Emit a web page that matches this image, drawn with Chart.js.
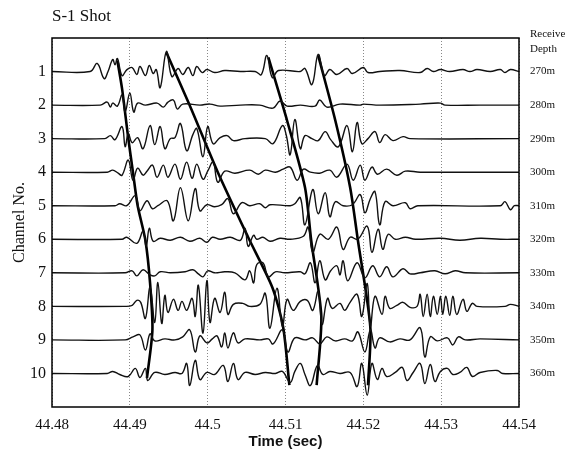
<!DOCTYPE html>
<html>
<head>
<meta charset="utf-8">
<script src="https://cdn.jsdelivr.net/npm/chart.js@4"></script>
<style>
html,body{margin:0;padding:0;background:#fff;}
#wrap{width:578px;height:453px;}
</style>
</head>
<body>
<div id="wrap"><canvas id="c" width="578" height="453"></canvas></div>
<script>
// ---- data ----
const titleText = 'S-1 Shot';
const xTickValues = [44.48, 44.49, 44.50, 44.51, 44.52, 44.53, 44.54];
const channels = [1, 2, 3, 4, 5, 6, 7, 8, 9, 10];
const depthLabels = ['270m','280m','290m','300m','310m','320m','330m','340m','350m','360m'];

// traces: [time (s), amplitude (channel spacing units, + = up)]
const trace1 = [[44.48,0],[44.4849,0],[44.4858,.24],[44.4867,-.21],[44.4872,0],[44.4878,.36],[44.4881,.2],[44.4884,.39],[44.4890,-.12],[44.4896,.05],[44.4903,.12],[44.4909,-.09],[44.4913,.15],[44.4920,-.12],[44.4925,.18],[44.4930,-.06],[44.4934,.06],[44.4939,-.48],[44.4947,.6],[44.4954,-.15],[44.4962,.09],[44.4968,-.09],[44.4975,.12],[44.4981,-.12],[44.4986,.15],[44.4993,-.03],[44.4999,.06],[44.5009,-.03],[44.5022,.03],[44.5042,0],[44.5061,0],[44.5069,-.09],[44.5076,.48],[44.5083,-.18],[44.5091,.03],[44.5119,0],[44.5125,.09],[44.5134,-.39],[44.5142,.51],[44.5150,-.12],[44.5157,.06],[44.5166,-.09],[44.5179,.09],[44.5186,-.06],[44.5200,.12],[44.5206,-.03],[44.5221,0],[44.5247,.03],[44.5273,-.03],[44.5282,.09],[44.5290,0],[44.5299,.06],[44.5311,0],[44.5328,.06],[44.5337,0],[44.5346,.06],[44.5363,0],[44.5376,.06],[44.5382,-.03],[44.5389,.06],[44.54,0]];
const trace2 = [[44.48,0],[44.4862,0],[44.4871,.09],[44.4875,-.06],[44.4878,.06],[44.4884,-.03],[44.4890,.3],[44.4894,-.21],[44.4900,.36],[44.4905,-.21],[44.4910,.06],[44.4920,0],[44.4935,.06],[44.4943,-.06],[44.4949,.09],[44.4956,.15],[44.4961,-.12],[44.4968,.03],[44.4990,0],[44.5003,.03],[44.5016,-.03],[44.5042,0],[44.5067,0],[44.5084,-.09],[44.5093,.12],[44.5102,-.03],[44.5119,0],[44.5138,-.03],[44.5144,.15],[44.5153,-.06],[44.5170,.03],[44.5196,0],[44.5200,.03],[44.5221,0],[44.5273,.03],[44.5299,.06],[44.5305,0],[44.5350,0],[44.54,0]];
const trace3 = [[44.48,0],[44.4868,0],[44.4875,.09],[44.4881,-.03],[44.4890,.36],[44.4894,-.24],[44.4898,.15],[44.4903,-.12],[44.4910,.03],[44.4917,-.3],[44.4926,.39],[44.4932,-.18],[44.4939,.36],[44.4945,-.3],[44.4952,0],[44.4958,.03],[44.4965,.45],[44.4973,-.36],[44.4981,.12],[44.4986,.3],[44.4994,-.54],[44.5000,.36],[44.5007,-.15],[44.5016,.03],[44.5025,.09],[44.5033,-.06],[44.5048,0],[44.5074,0],[44.5084,-.15],[44.5096,.39],[44.5101,.1],[44.5106,-.48],[44.5112,.57],[44.5119,-.3],[44.5125,.09],[44.5134,0],[44.5142,-.06],[44.5151,.21],[44.5158,-.03],[44.5168,-.24],[44.5179,.39],[44.5186,-.39],[44.5192,.48],[44.5198,-.15],[44.5206,0],[44.5215,.21],[44.5221,-.12],[44.5228,.12],[44.5238,-.06],[44.5251,.06],[44.5260,0],[44.54,0]];
const trace4 = [[44.48,0],[44.4871,0],[44.4878,.06],[44.4885,-.03],[44.4890,-.09],[44.4898,.36],[44.4904,-.24],[44.4910,.12],[44.4917,-.09],[44.4922,.03],[44.4929,.21],[44.4935,-.15],[44.4943,.21],[44.4949,-.15],[44.4958,.24],[44.4965,-.21],[44.4973,.3],[44.4980,-.18],[44.4986,.24],[44.4994,-.21],[44.5000,.03],[44.5007,.3],[44.5013,-.3],[44.5022,.03],[44.5035,-.03],[44.5054,.06],[44.5065,-.06],[44.5074,.06],[44.5087,0],[44.5097,.09],[44.5106,.15],[44.5115,-.24],[44.5123,.09],[44.5132,0],[44.5144,-.03],[44.5157,.06],[44.5166,-.15],[44.5179,.24],[44.5187,-.24],[44.5196,.21],[44.5202,-.24],[44.5211,.15],[44.5218,-.06],[44.5230,.09],[44.5243,-.09],[44.5254,.03],[44.5273,0],[44.54,0]];
const trace5 = [[44.48,0],[44.4881,0],[44.4887,.06],[44.4896,0],[44.4907,.3],[44.4913,-.15],[44.4922,.15],[44.4929,-.09],[44.4936,0],[44.4948,.15],[44.4956,-.45],[44.4965,.54],[44.4975,-.45],[44.4984,.51],[44.4990,-.15],[44.4999,.03],[44.5009,-.03],[44.5018,.03],[44.5026,.21],[44.5033,-.24],[44.5044,.09],[44.5054,0],[44.5067,.06],[44.5074,-.06],[44.5080,.03],[44.5106,0],[44.5112,.06],[44.5119,.24],[44.5125,-.57],[44.5135,.48],[44.5142,-.24],[44.5151,.39],[44.5157,-.33],[44.5164,.12],[44.5174,0],[44.5186,.03],[44.5196,.33],[44.5202,-.21],[44.5209,.21],[44.5215,.42],[44.5221,-.57],[44.5228,.12],[44.5238,0],[44.5254,.09],[44.5260,-.09],[44.5270,0],[44.5376,0],[44.5382,.12],[44.5389,-.12],[44.5394,0],[44.54,0]];
const trace6 = [[44.48,0],[44.4890,0],[44.4896,.06],[44.4909,-.12],[44.4917,.24],[44.4921,-.21],[44.4925,.33],[44.4930,-.06],[44.4939,.03],[44.4952,-.03],[44.4965,.06],[44.4977,-.06],[44.4990,.03],[44.4999,-.09],[44.5006,.06],[44.5016,0],[44.5029,.06],[44.5042,-.03],[44.5048,.33],[44.5052,-.21],[44.5059,.12],[44.5063,0],[44.5071,.06],[44.5080,-.06],[44.5093,.03],[44.5106,0],[44.5123,.09],[44.5129,.36],[44.5135,-.39],[44.5144,.15],[44.5155,0],[44.5166,.36],[44.5174,-.3],[44.5183,.06],[44.5193,0],[44.5205,.39],[44.5211,-.39],[44.5219,.3],[44.5225,-.3],[44.5232,.15],[44.5241,0],[44.5254,.06],[44.5267,0],[44.5299,.03],[44.5324,-.03],[44.5350,.03],[44.5376,0],[44.54,0]];
const trace7 = [[44.48,0],[44.4894,0],[44.4903,.06],[44.4909,-.09],[44.4917,.09],[44.4926,-.06],[44.4932,-.09],[44.4939,.03],[44.4952,0],[44.4971,.03],[44.4981,.09],[44.4988,-.03],[44.4994,-.12],[44.5000,.06],[44.5009,0],[44.5022,.03],[44.5035,0],[44.5048,-.21],[44.5054,.06],[44.5059,-.3],[44.5063,.24],[44.5071,.3],[44.5078,-.12],[44.5087,.03],[44.5099,0],[44.5119,.03],[44.5125,-.03],[44.5132,.3],[44.5138,-.3],[44.5144,.36],[44.5151,-.21],[44.5158,.06],[44.5166,.21],[44.5170,-.06],[44.5174,.36],[44.5180,-.24],[44.5192,.3],[44.5202,-.15],[44.5212,.21],[44.5221,-.12],[44.5230,.18],[44.5238,-.12],[44.5251,.12],[44.5260,-.03],[44.5273,0],[44.5292,.06],[44.5305,-.03],[44.5318,.06],[44.5331,0],[44.54,0]];
const trace8 = [[44.48,0],[44.4894,0],[44.4903,.03],[44.4909,.18],[44.4914,.12],[44.4920,-.36],[44.4926,.57],[44.4932,-.48],[44.4936,.71],[44.4941,-.51],[44.4945,.33],[44.4949,-.18],[44.4956,.21],[44.4962,-.12],[44.4967,.15],[44.4973,-.12],[44.4980,.24],[44.4984,-.3],[44.4988,.63],[44.4994,-.8],[44.4999,.77],[44.5003,-.48],[44.5009,.24],[44.5016,-.18],[44.5022,.42],[44.5026,-.24],[44.5033,.06],[44.5045,.09],[44.5054,0],[44.5067,.06],[44.5074,.39],[44.5080,-.65],[44.5089,.54],[44.5096,-.6],[44.5102,.21],[44.5110,-.12],[44.5119,.15],[44.5128,.18],[44.5135,-.12],[44.5142,.45],[44.5147,-.54],[44.5154,.24],[44.5160,-.06],[44.5170,.09],[44.5176,-.12],[44.5183,.12],[44.5192,.36],[44.5198,-.3],[44.5205,.68],[44.5209,-.6],[44.5215,.3],[44.5224,-.24],[44.5228,.3],[44.5234,-.06],[44.5243,.03],[44.5251,.12],[44.5260,-.03],[44.5269,0],[44.5273,.36],[44.5277,-.3],[44.5282,.36],[44.5286,-.3],[44.5290,.3],[44.5295,-.24],[44.5299,.3],[44.5302,-.24],[44.5306,.3],[44.5311,-.27],[44.5315,.3],[44.5320,-.24],[44.5328,.21],[44.5333,-.15],[44.5340,.09],[44.5346,0],[44.5382,0],[44.5389,.06],[44.54,0]];
const trace9 = [[44.48,0],[44.4894,0],[44.4904,.09],[44.4913,.15],[44.4920,-.3],[44.4926,.18],[44.4932,-.03],[44.4945,.03],[44.4958,0],[44.4968,.09],[44.4977,.3],[44.4984,-.36],[44.4990,.12],[44.4999,-.09],[44.5006,.03],[44.5012,.12],[44.5018,-.21],[44.5022,.21],[44.5026,-.24],[44.5033,.21],[44.5039,-.09],[44.5048,.03],[44.5067,0],[44.5078,.03],[44.5084,-.12],[44.5096,.3],[44.5103,-.36],[44.5112,.06],[44.5125,0],[44.5135,.06],[44.5144,-.12],[44.5153,.09],[44.5164,-.03],[44.5176,.03],[44.5186,-.03],[44.5193,.24],[44.5202,-.36],[44.5209,.3],[44.5215,-.24],[44.5221,.06],[44.5234,-.06],[44.5247,.03],[44.5260,0],[44.5273,.36],[44.5279,-.51],[44.5286,.09],[44.5295,-.03],[44.5308,.06],[44.5315,-.15],[44.5322,.09],[44.5331,0],[44.5350,.03],[44.54,0]];
const trace10 = [[44.48,0],[44.4871,0],[44.4878,.06],[44.4887,-.03],[44.4898,-.09],[44.4907,.15],[44.4913,-.12],[44.4920,.15],[44.4923,-.21],[44.4932,.03],[44.4945,-.03],[44.4958,.03],[44.4967,0],[44.4973,.3],[44.4977,-.36],[44.4984,.39],[44.4990,-.18],[44.4999,.03],[44.5009,-.03],[44.5020,.24],[44.5026,-.24],[44.5033,.3],[44.5039,-.18],[44.5048,.03],[44.5061,-.03],[44.5074,.03],[44.5087,0],[44.5096,.06],[44.5106,-.27],[44.5112,.06],[44.5119,.3],[44.5125,-.03],[44.5132,-.36],[44.5141,.24],[44.5148,-.03],[44.5157,.06],[44.5170,0],[44.5183,.03],[44.5192,-.39],[44.5198,.3],[44.5205,-.65],[44.5211,.3],[44.5218,-.18],[44.5224,.15],[44.5230,-.09],[44.5241,.03],[44.5250,.18],[44.5256,-.21],[44.5264,.03],[44.5273,.3],[44.5279,-.3],[44.5286,.27],[44.5292,-.24],[44.5299,.06],[44.5308,.15],[44.5315,-.03],[44.5324,.03],[44.5333,.18],[44.5340,-.09],[44.5350,.03],[44.5372,.09],[44.5379,0],[44.54,0]];
const traces = [trace1, trace2, trace3, trace4, trace5, trace6, trace7, trace8, trace9, trace10];

// picked arrival lines: [time (s), channel position]
const pickA = [[44.4884,.67],[44.4890,1.51],[44.4898,2.99],[44.4904,4.0],[44.4910,4.99],[44.4920,6.03],[44.4926,7.31],[44.4929,8.71],[44.4922,10.14]];
const pickB = [[44.4947,.43],[44.4977,2.01],[44.5013,4.0],[44.5052,5.94],[44.5083,7.43],[44.5097,8.62],[44.5105,10.35]];
const pickC = [[44.5078,.58],[44.5102,2.46],[44.5125,4.45],[44.5133,6.03],[44.5146,8.3],[44.5140,10.35]];
const pickD = [[44.5142,.52],[44.5164,2.46],[44.5183,4.45],[44.5193,6.03],[44.5209,8.62],[44.5206,10.35]];
const picks = [pickA, pickB, pickC, pickD];

// ---- chart ----
const SERIF = '"Liberation Serif", "DejaVu Serif", serif';
const SANS = '"Liberation Sans", Arial, sans-serif';

const datasets = [];
traces.forEach((tr, i) => {
  datasets.push({
    data: tr.map(([t, a]) => ({x: t, y: channels[i] - a})),
    borderColor: '#111', borderWidth: 1.4, pointRadius: 0, tension: 0.4, fill: false
  });
});
picks.forEach(p => {
  datasets.push({
    data: p.map(([t, c]) => ({x: t, y: c})),
    borderColor: '#000', borderWidth: 2.6, pointRadius: 0, tension: 0.25, fill: false
  });
});

const extraText = {
  id: 'extraText',
  afterDatasetsDraw(chart) {
    const {ctx, chartArea: a} = chart;
    ctx.save();
    ctx.strokeStyle = '#000';
    ctx.lineWidth = 1.5;
    ctx.strokeRect(a.left, a.top, a.right - a.left, a.bottom - a.top);
    ctx.restore();
  },
  afterDraw(chart) {
    const {ctx, chartArea: a} = chart;
    ctx.save();
    ctx.fillStyle = '#111';
    ctx.textBaseline = 'middle';
    ctx.textAlign = 'left';
    ctx.font = '17px ' + SERIF;
    ctx.fillText(titleText, a.left, 17);
    ctx.font = '11px ' + SERIF;
    ctx.fillText('Receive', a.right + 11, 34);
    ctx.fillText('Depth', a.right + 11, 49);
    ctx.restore();
  }
};

new Chart(document.getElementById('c'), {
  type: 'line',
  data: {datasets},
  options: {
    responsive: false,
    animation: false,
    devicePixelRatio: 1,
    layout: {padding: {top: 38, left: 0, right: 0, bottom: 0}},
    plugins: {legend: {display: false}, tooltip: {enabled: false}, title: {display: false}},
    scales: {
      x: {
        type: 'linear', min: 44.48, max: 44.54,
        afterBuildTicks: s => { s.ticks = xTickValues.map(v => ({value: v})); },
        afterFit: s => { s.height = 46; },
        ticks: {
          color: '#111', padding: 9, maxRotation: 0, autoSkip: false,
          font: {family: SERIF, size: 15},
          callback: v => String(Number(v.toFixed(2)))
        },
        grid: {color: '#888', lineWidth: 1, drawTicks: false},
        border: {display: false, dash: [1, 2]},
        title: {display: true, text: 'Time (sec)', color: '#111', font: {family: SANS, size: 15, weight: 'bold'}, padding: {top: 0, bottom: 2}}
      },
      y: {
        type: 'linear', min: 0, max: 11, reverse: true, position: 'left',
        afterBuildTicks: s => { s.ticks = channels.map(v => ({value: v})); },
        afterFit: s => { s.width = 52; },
        ticks: {color: '#111', padding: 6, font: {family: SERIF, size: 16}},
        grid: {display: false, drawTicks: false},
        border: {display: false},
        title: {display: true, text: 'Channel No.', color: '#111', font: {family: SERIF, size: 16}, padding: {top: 10, bottom: 0}}
      },
      yr: {
        type: 'linear', min: 0, max: 11, reverse: true, position: 'right',
        afterBuildTicks: s => { s.ticks = channels.map(v => ({value: v})); },
        afterFit: s => { s.width = 59; },
        ticks: {color: '#111', padding: 11, font: {family: SERIF, size: 11},
          callback: v => depthLabels[channels.indexOf(v)] || ''},
        grid: {display: false, drawTicks: false},
        border: {display: false}
      }
    }
  },
  plugins: [extraText]
});
</script>
</body>
</html>
